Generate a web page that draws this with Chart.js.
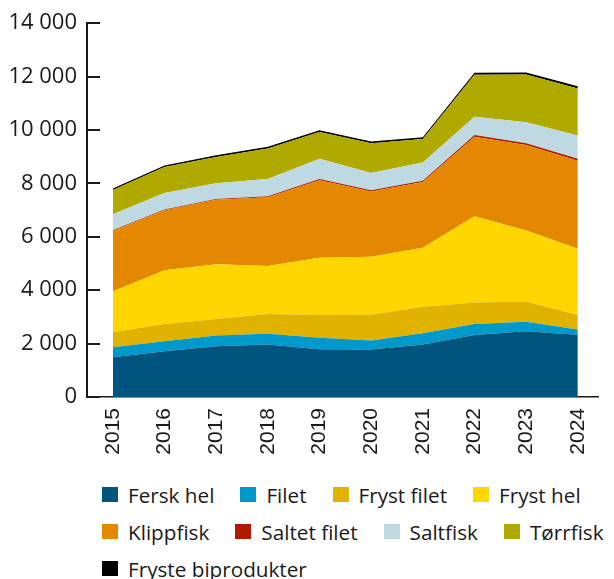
<!DOCTYPE html>
<html><head><meta charset="utf-8">
<script src="https://cdn.jsdelivr.net/npm/chart.js@4/dist/chart.umd.min.js"></script>
<style>
html,body{margin:0;padding:0;background:#fff;width:614px;height:579px;overflow:hidden;}
#wrap{position:relative;width:614px;height:579px;overflow:hidden;}
#c{position:absolute;left:0;top:0;}
#legend{position:absolute;left:102px;top:476px;font-family:'Open Sans',sans-serif;font-size:20.7px;color:#1a1a1a;}
.row{display:flex;white-space:nowrap;height:37px;align-items:center;}
.item{display:flex;align-items:center;margin-right:26px;}
.box{width:16px;height:15px;margin-right:10px;flex:none;}
</style></head><body>
<div id="wrap"><canvas id="c" width="614" height="470"></canvas><div id="legend"></div></div>
<script>
const categories = ['2015','2016','2017','2018','2019','2020','2021','2022','2023','2024'];
const seriesNames = ['Fersk hel','Filet','Fryst filet','Fryst hel','Klippfisk','Saltet filet','Saltfisk','Tørrfisk','Fryste biprodukter'];
const ferskHel    = [1490, 1715, 1900, 1965, 1790, 1780, 1965, 2325, 2460, 2335];
const filet       = [ 375,  375,  400,  400,  425,  335,  420,  410,  360,  190];
const frystFilet  = [ 560,  645,  620,  745,  855,  965,  995,  805,  760,  545];
const frystHel    = [1530, 2015, 2050, 1800, 2150, 2175, 2210, 3230, 2660, 2485];
const klippfisk   = [2265, 2245, 2415, 2575, 2900, 2440, 2460, 2975, 3195, 3290];
const saltetFilet = [  25,   30,   30,   35,   45,   45,   50,   70,   70,   80];
const saltfisk    = [ 595,  620,  595,  645,  760,  645,  680,  680,  785,  870];
const torrfisk    = [ 915,  965,  980, 1145, 1000, 1120,  885, 1570, 1785, 1755];
const frysteBiprodukter = [ 55,   60,   60,   65,   65,   65,   65,   80,   80,   85];
const yTicks = [0, 2000, 4000, 6000, 8000, 10000, 12000, 14000];

const seriesValues = [ferskHel, filet, frystFilet, frystHel, klippfisk, saltetFilet, saltfisk, torrfisk, frysteBiprodukter];
const colors = ['#00557f','#0099cc','#e0b300','#ffd600','#e38800','#b01a00','#bfd9e3','#b0aa00','#000000'];

const datasets = seriesNames.map((name, i) => ({
  label: name,
  data: seriesValues[i].map((v, j) => ({x: Number(categories[j]), y: v})),
  backgroundColor: colors[i],
  borderColor: colors[i],
  borderWidth: 0,
  pointRadius: 0,
  tension: 0,
  fill: i === 0 ? 'origin' : '-1'
}));

const innerTicks = {
  id: 'innerTicks',
  afterDraw(chart) {
    const s = chart.scales.y, ctx = chart.ctx, left = chart.chartArea.left;
    ctx.save();
    ctx.strokeStyle = '#1a1a1a';
    ctx.lineWidth = 2;
    s.ticks.forEach((t, i) => {
      const y = Math.round(s.getPixelForTick(i));
      ctx.beginPath(); ctx.moveTo(left, y); ctx.lineTo(left + 13, y); ctx.stroke();
    });
    ctx.restore();
  }
};

new Chart(document.getElementById('c'), {
  type: 'line',
  data: {datasets},
  plugins: [innerTicks],
  options: {
    responsive: false,
    animation: false,
    layout: {padding: {top: 21, left: 0, right: 0, bottom: 0}},
    plugins: {legend: {display: false}, tooltip: {enabled: false}},
    elements: {line: {borderWidth: 0}},
    scales: {
      x: {
        type: 'linear',
        min: 2014.5,
        max: 2024.41,
        afterBuildTicks: s => { s.ticks = categories.map(c => ({value: Number(c)})); },
        afterFit: s => { s.height = 73; },
        grid: {display: false, drawTicks: false},
        border: {display: true, color: '#1a1a1a', width: 1.5},
        ticks: {
          minRotation: 90, maxRotation: 90, padding: 11, autoSkip: false,
          color: '#1a1a1a',
          font: {family: "'Liberation Sans Narrow','Liberation Sans',sans-serif", size: 21},
          callback: (v, i) => categories[i]
        }
      },
      y: {
        stacked: true,
        min: 0, max: 14000,
        afterBuildTicks: s => { s.ticks = yTicks.map(v => ({value: v})); },
        afterFit: s => { s.width = 87; },
        grid: {display: false, drawTicks: false},
        border: {display: true, color: '#1a1a1a', width: 2},
        ticks: {
          padding: 10,
          color: '#1a1a1a',
          font: {family: "'Open Sans',sans-serif", size: 22},
          callback: v => String(v).replace(/\B(?=(\d{3})+(?!\d))/g, ' ')
        }
      }
    }
  }
});

const rows = [[0,1,2,3],[4,5,6,7],[8]];
const legend = document.getElementById('legend');
rows.forEach(r => {
  const row = document.createElement('div'); row.className = 'row';
  r.forEach(i => {
    const it = document.createElement('div'); it.className = 'item';
    const b = document.createElement('span'); b.className = 'box'; b.style.background = colors[i];
    const t = document.createElement('span'); t.textContent = seriesNames[i];
    it.appendChild(b); it.appendChild(t); row.appendChild(it);
  });
  legend.appendChild(row);
});
</script>
</body></html>
